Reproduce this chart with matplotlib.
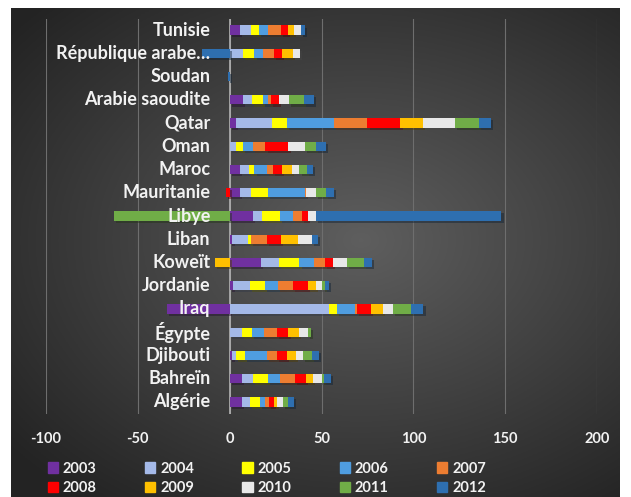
import numpy as np
import matplotlib.pyplot as plt
from matplotlib import patheffects
from matplotlib.patches import Patch

plt.rcParams['font.family'] = ['Lato', 'DejaVu Sans']
plt.rcParams['axes.unicode_minus'] = False

pays = ['Algérie', 'Bahreïn', 'Djibouti', 'Égypte', 'Iraq', 'Jordanie', 'Koweït',
        'Liban', 'Libye', 'Mauritanie', 'Maroc', 'Oman', 'Qatar', 'Arabie saoudite',
        'Soudan', 'République arabe…', 'Tunisie']

annees = ['2003', '2004', '2005', '2006', '2007', '2008', '2009', '2010', '2011', '2012']
couleurs = ['#7030a0', '#a4b9e8', '#ffff00', '#4f9de0', '#ed7d31',
            '#ff0000', '#ffc000', '#e8e8e8', '#70ad47', '#2e6fb0']

# une liste par année, dans l'ordre des pays
v2003 = [6.5, 6.5, 1.5, 0, -34, 2, 17, 1.5, 12.5, 5.5, 5.5, 0, 3.5, 7, 0, 0, 5.5]
v2004 = [4.5, 6, 2, 6.5, 54, 9, 10, 8.5, 5, 6, 5, 3.5, 19.5, 5, 0, 7, 6]
v2005 = [5.5, 8.5, 5, 5.5, 4.5, 8, 11, 1.5, 10, 9.5, 3, 3.5, 8, 6, 0, 6.5, 4.5]
v2006 = [2.5, 6.5, 12, 6.5, 10, 7.5, 8, 0, 7, 20, 7, 5.5, 26, 3, 0, 4.5, 5]
v2007 = [2.5, 8, 5, 7, 1, 8, 6, 9, 5, 0.5, 3, 7, 18, 1.5, 0, 6, 7]
v2008 = [2.5, 6, 5.5, 6.5, 7.5, 8, 4, 7.5, 3, -2, 5, 12.5, 18, 4.5, 0, 4.5, 3.5]
v2009 = [1.5, 4, 5, 5.5, 6.5, 4.5, -8, 9, 0, 0, 5.5, 0, 12, 0, 0, 6, 3.5]
v2010 = [3.5, 4.5, 4, 5, 5.5, 3.5, 8, 8, 4.5, 5.5, 4, 9, 17.5, 5.5, 0, 4, 4]
v2011 = [2.5, 1.5, 5, 2, 9.5, 1.5, 9, 0, -63, 5.5, 4, 6, 13, 8, 0, 0, 0]
v2012 = [3.5, 3.5, 3.5, 0, 7, 2, 4.5, 3, 101, 4.5, 3.5, 5.5, 7, 5.5, -1, -15, 2]

series = [v2003, v2004, v2005, v2006, v2007, v2008, v2009, v2010, v2011, v2012]

fig = plt.figure(figsize=(6.31, 4.97), dpi=100)

# fond sombre en dégradé radial
fond = fig.add_axes([11 / 631, 0, 609 / 631, 489 / 497])
gx, gy = np.meshgrid(np.linspace(-1, 1, 300), np.linspace(-1, 1, 240))
r = np.sqrt(((gx - 0.15) / 1.1) ** 2 + ((gy + 0.05) / 1.0) ** 2)
grad = np.clip(1 - r / 1.35, 0, 1)
niveau = 0.14 + 0.23 * grad
fond.imshow(np.dstack([niveau, niveau, niveau]), aspect='auto', extent=[0, 1, 0, 1])
fond.axis('off')

ax = fig.add_axes([46 / 631, 83.5 / 497, 551 / 631, 395 / 497])
ax.set_facecolor('none')

y = np.arange(len(pays))
pos = np.zeros(len(pays))
neg = np.zeros(len(pays))
ombre = [patheffects.withSimplePatchShadow(offset=(1.5, -1.5), alpha=0.45)]
for vals, c, an in zip(series, couleurs, annees):
    vals = np.array(vals, dtype=float)
    gauche = np.where(vals >= 0, pos, neg)
    ax.barh(y, vals, left=gauche, height=0.4, color=c, label=an,
            zorder=3, path_effects=ombre)
    pos += np.where(vals > 0, vals, 0)
    neg += np.where(vals < 0, vals, 0)

ax.set_xlim(-100, 200)
ax.set_ylim(-0.5, len(pays) - 0.5)
ax.set_xticks([-100, -50, 0, 50, 100, 150, 200])
ax.set_yticks([])
ax.tick_params(axis='x', length=0, pad=13, labelsize=10.5, labelcolor='#f2f2f2')
for lab in ax.get_xticklabels():
    lab.set_fontweight('bold')
ax.grid(True, axis='x', color='#6e6e6e', lw=0.8, zorder=0)
ax.axvline(0, color='#b4b4b4', lw=1.2, zorder=2)
for s in ax.spines.values():
    s.set_visible(False)

for yi, nom in zip(y, pays):
    ax.text(-10.5, yi, nom, ha='right', va='center', fontsize=13,
            fontweight='bold', color='#f2f2f2', zorder=5)

# légende sur deux lignes : 2003-2007 puis 2008-2012
poignees = [Patch(color=c, label=a) for c, a in zip(couleurs, annees)]
ordre = [0, 5, 1, 6, 2, 7, 3, 8, 4, 9]
fig.legend([poignees[i] for i in ordre], [annees[i] for i in ordre], ncol=5,
           loc='upper left', bbox_to_anchor=(36 / 631, 1 - 450 / 497),
           frameon=False, handlelength=0.7, handleheight=0.7, handletextpad=0.35,
           columnspacing=3.3, labelspacing=0.35, borderpad=0.3,
           prop={'weight': 'bold', 'size': 10.5}, labelcolor='#f2f2f2')

fig.savefig('out.png', dpi=100)
